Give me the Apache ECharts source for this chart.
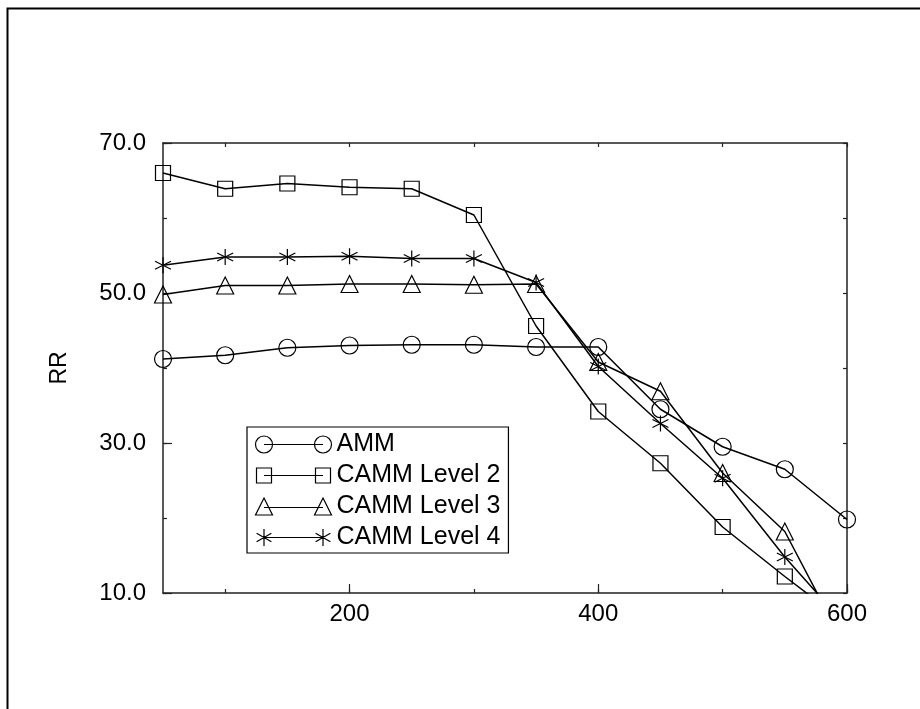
<!DOCTYPE html>
<html>
<head>
<meta charset="utf-8">
<style>
  html, body { margin: 0; padding: 0; background: #fff; }
  #chart { width: 920px; height: 709px; }
</style>
<script src="https://cdn.jsdelivr.net/npm/echarts@6/dist/echarts.min.js"></script>
</head>
<body>
<div id="chart"></div>
<script>
// x values (same for every series)
var xValues = [50, 100, 150, 200, 250, 300, 350, 400, 450, 500, 550, 600];

// RR per series
var amm = [41.2, 41.7, 42.7, 43.0, 43.1, 43.1, 42.8, 42.8, 34.5, 29.5, 26.5, 19.8];
var camm2 = [66.0, 63.9, 64.6, 64.1, 63.9, 60.4, 45.6, 34.2, 27.3, 18.8, 12.2, 5.9];
var camm3 = [49.8, 51.0, 51.0, 51.2, 51.2, 51.1, 51.2, 40.8, 36.9, 26.0, 18.2, 2.4];
var camm4 = [53.7, 54.8, 54.8, 54.9, 54.6, 54.6, 51.4, 40.2, 32.6, 25.3, 14.8, 5.5];

var xLabelTicks = [200, 400, 600];
var xMinorTicks = [100, 200, 300, 400, 500, 600];
var yLabelTicks = [10, 30, 50, 70];
var yMinorTicks = [10, 20, 30, 40, 50, 60, 70];

var FONT = "'Liberation Sans', Arial, Helvetica, sans-serif";
var INK = "#222";

// marker paths (stroked only, so the line shows through)
var STAR = "path://M0,-1L0,1M-0.866,-0.5L0.866,0.5M-0.866,0.5L0.866,-0.5";

// legend icons: marker - line - marker, 76 x 17 box
var iconCircle = "path://M0,0M76,17M0,8.5A8.5,8.5 0 1,0 17,8.5A8.5,8.5 0 1,0 0,8.5ZM8.5,8.5L67.5,8.5M59,8.5A8.5,8.5 0 1,0 76,8.5A8.5,8.5 0 1,0 59,8.5Z";
var iconRect = "path://M0,0M76,17M1,1L16,1L16,16L1,16ZM8.5,8.5L67.5,8.5M60,1L75,1L75,16L60,16Z";
var iconTri = "path://M0,0M76,17M8.5,0L17,17L0,17ZM8.5,9.5L67.5,9.5M67.5,0L76,17L59,17Z";
var iconStar = "path://M0,0M76,17M8.5,0L8.5,17M1.1,4.25L15.9,12.75M1.1,12.75L15.9,4.25M8.5,8.5L67.5,8.5M67.5,0L67.5,17M60.1,4.25L74.9,12.75M60.1,12.75L74.9,4.25";

function pairs(ys) {
  return xValues.map(function (x, i) { return [x, ys[i]]; });
}

function makeSeries(name, ys, symbol, size) {
  return {
    name: name,
    type: "line",
    data: pairs(ys),
    symbol: symbol,
    symbolSize: size,
    showAllSymbol: true,
    clip: true,
    lineStyle: { color: "#000", width: 1.5 },
    itemStyle: { color: "transparent", borderColor: "#000", borderWidth: 1.2 },
    emphasis: { disabled: true },
    z: 3
  };
}

function xAxisBase(extra) {
  var a = {
    type: "value",
    min: 50,
    max: 600,
    splitLine: { show: false },
    axisLine: { show: true, lineStyle: { color: INK, width: 1.5 } },
    axisTick: { show: true, inside: true, length: 4, lineStyle: { color: INK, width: 1.2 }, customValues: xMinorTicks },
    axisLabel: { show: false }
  };
  return Object.assign(a, extra);
}

function yAxisBase(extra) {
  var a = {
    type: "value",
    min: 10,
    max: 70,
    splitLine: { show: false },
    axisLine: { show: true, lineStyle: { color: INK, width: 1.5 } },
    axisTick: { show: true, inside: true, length: 4, lineStyle: { color: INK, width: 1.2 }, customValues: yMinorTicks },
    axisLabel: { show: false }
  };
  return Object.assign(a, extra);
}

var chart = echarts.init(document.getElementById("chart"), null, { renderer: "canvas" });

chart.setOption({
  backgroundColor: "#fff",
  animation: false,
  graphic: [{
    type: "rect",
    shape: { x: 7.5, y: 8.5, width: 1000, height: 1000 },
    style: { fill: "none", stroke: "#000", lineWidth: 2 },
    silent: true
  }],
  grid: { left: 163, right: 73, top: 143, bottom: 116, containLabel: false },
  xAxis: [
    xAxisBase({
      position: "bottom",
      axisTick: { show: true, inside: true, length: 9, lineStyle: { color: INK, width: 1.2 }, customValues: xLabelTicks },
      axisLabel: {
        show: true, customValues: xLabelTicks, margin: 9,
        color: "#000", fontSize: 24, fontFamily: FONT
      }
    }),
    xAxisBase({ position: "bottom", axisLine: { show: false } }),
    xAxisBase({ position: "top" })
  ],
  yAxis: [
    yAxisBase({
      position: "left",
      name: "RR",
      nameLocation: "middle",
      nameRotate: 90,
      nameGap: 92,
      nameTextStyle: { color: "#000", fontSize: 23, fontFamily: FONT },
      axisTick: { show: true, inside: true, length: 9, lineStyle: { color: INK, width: 1.2 }, customValues: yLabelTicks },
      axisLabel: {
        show: true, customValues: yLabelTicks, margin: 17,
        color: "#000", fontSize: 24, fontFamily: FONT,
        formatter: function (v) { return v.toFixed(1); }
      }
    }),
    yAxisBase({ position: "left", axisLine: { show: false } }),
    yAxisBase({ position: "right" })
  ],
  legend: {
    orient: "vertical",
    left: 247,
    top: 427,
    padding: [5, 8, 3, 6],
    itemGap: 6,
    itemWidth: 76,
    itemHeight: 17,
    symbolKeepAspect: false,
    borderColor: "#000",
    borderWidth: 1.2,
    backgroundColor: "#fff",
    selectedMode: false,
    itemStyle: { color: "none", borderColor: "#000", borderWidth: 1.2 },
    textStyle: { color: "#000", fontSize: 25, fontFamily: FONT, lineHeight: 25 },
    data: [
      { name: "AMM", icon: iconCircle },
      { name: "CAMM Level 2", icon: iconRect },
      { name: "CAMM Level 3", icon: iconTri },
      { name: "CAMM Level 4", icon: iconStar }
    ]
  },
  series: [
    makeSeries("AMM", amm, "circle", 17),
    makeSeries("CAMM Level 2", camm2, "rect", 15),
    makeSeries("CAMM Level 3", camm3, "triangle", 17),
    makeSeries("CAMM Level 4", camm4, STAR, 16)
  ]
});
</script>
</body>
</html>
